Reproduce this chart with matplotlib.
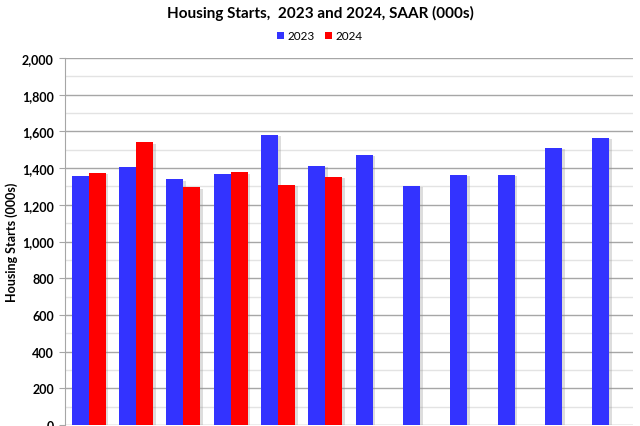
import matplotlib
matplotlib.use("Agg")
import matplotlib.pyplot as plt
import matplotlib.patheffects as pe
from matplotlib.patches import Patch
import numpy as np
from matplotlib.ticker import MultipleLocator, FuncFormatter

months = ["Jan", "Feb", "Mar", "Apr", "May", "Jun", "Jul", "Aug", "Sep", "Oct", "Nov", "Dec"]
starts_2023 = [1358, 1404, 1339, 1366, 1580, 1413, 1471, 1302, 1362, 1362, 1510, 1564]
starts_2024 = [1373, 1541, 1295, 1377, 1310, 1351]
series_labels = ["2023", "2024"]
title = "Housing Starts,  2023 and 2024, SAAR (000s)"
ylabel = "Housing Starts (000s)"
colors = ['#3333FF', '#FF0000']

plt.rcParams['font.family'] = ['Lato', 'DejaVu Sans']

fig = plt.figure(figsize=(6.4, 4.27), dpi=100)
ax = fig.add_axes([65/640, 1/427, (633-65)/640, (426-59)/427])

x = np.arange(len(months))
w = 0.36
shadow = [pe.SimplePatchShadow(offset=(2, -1), shadow_rgbFace='#909090', alpha=0.3), pe.Normal()]
b1 = ax.bar(x - w/2, starts_2023, width=w, color=colors[0], zorder=3)
x2 = np.arange(len(starts_2024))
b2 = ax.bar(x2 + w/2, starts_2024, width=w, color=colors[1], zorder=3)
for bar in list(b1) + list(b2):
    bar.set_path_effects(shadow)

ax.set_xlim(-0.5, len(months) - 0.5)
ax.set_ylim(0, 2000)
ax.yaxis.set_major_locator(MultipleLocator(200))
ax.yaxis.set_minor_locator(MultipleLocator(100))
ax.yaxis.set_major_formatter(FuncFormatter(lambda v, p: f"{int(v):,}"))
ax.grid(axis='y', which='major', color='#a6a6a6', linewidth=1.0, zorder=0)
ax.grid(axis='y', which='minor', color='#e3e3e3', linewidth=1.0, zorder=0)
ax.set_axisbelow(True)
for s in ['top', 'right', 'bottom']:
    ax.spines[s].set_visible(False)
ax.spines['left'].set_color('#a6a6a6')
ax.tick_params(axis='y', which='major', length=4, color='#a6a6a6', labelsize=9, pad=4)
ax.tick_params(axis='y', which='minor', length=0)
ax.tick_params(axis='x', length=0, labelbottom=False)
for lab in ax.get_yticklabels():
    lab.set_fontweight('bold')

ax.set_ylabel(ylabel, fontsize=9, fontweight='bold', labelpad=3)
fig.text(0.5, 1 - 13/427, title, ha='center', va='center', fontsize=11, fontweight='bold')
handles = [Patch(facecolor=c) for c in colors]
fig.legend(handles=handles, labels=series_labels, loc='center', bbox_to_anchor=(0.5, 1 - 37/427),
           ncol=2, frameon=False, fontsize=8.5, handlelength=0.6, handleheight=0.6,
           handletextpad=0.3, columnspacing=0.9)

fig.savefig("out.png", dpi=100)
